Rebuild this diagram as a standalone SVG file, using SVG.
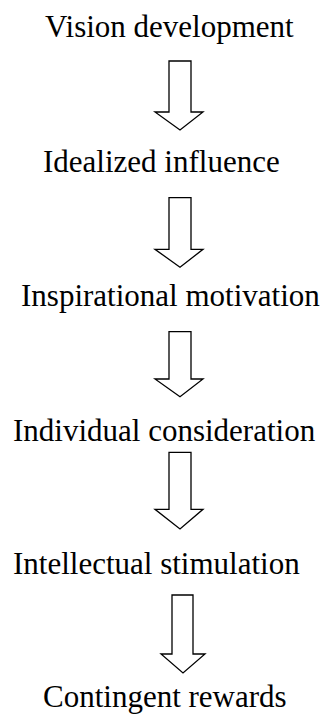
<svg xmlns="http://www.w3.org/2000/svg" width="323" height="716" viewBox="0 0 323 716">
  <style>
    .label { font-family: 'Liberation Serif', 'Times New Roman', 'DejaVu Serif', serif; font-size: 31px; fill: #000; }
    .arrow { fill: #fff; stroke: #000; stroke-width: 1.3; stroke-linejoin: miter; }
  </style>
  <rect width="323" height="716" fill="#fff"/>

  <g id="vision-development"><text class="label" x="45" y="37">Vision development</text></g>
  <g id="idealized-influence"><text class="label" x="43" y="172">Idealized influence</text></g>
  <g id="inspirational-motivation"><text class="label" x="21" y="306">Inspirational motivation</text></g>
  <g id="individual-consideration"><text class="label" x="13" y="441">Individual consideration</text></g>
  <g id="intellectual-stimulation"><text class="label" x="13" y="574">Intellectual stimulation</text></g>
  <g id="contingent-rewards"><text class="label" x="43" y="707">Contingent rewards</text></g>

  <!-- hollow block arrows between the stages -->
  <g id="connectors">
    <polygon class="arrow" points="169,61 191,61 191,112 203,112 180,130 155,112 169,112"/>
    <polygon class="arrow" points="169,197.7 191,197.7 191,249.3 203,249.3 180,267.3 155,249.3 169,249.3"/>
    <polygon class="arrow" points="169,331.7 191,331.7 191,379 203,379 180,396.7 155,379 169,379"/>
    <polygon class="arrow" points="169,452.3 191,452.3 191,509.3 203,509.3 180,529 155,509.3 169,509.3"/>
    <polygon class="arrow" points="172,595 193,595 193,654 205,654 183,673 161,654 172,654"/>
  </g>
</svg>
